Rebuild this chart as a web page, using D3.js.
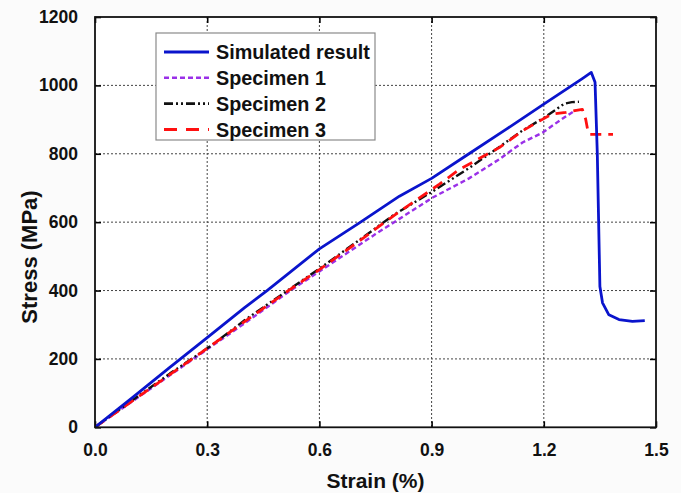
<!DOCTYPE html>
<html>
<head>
<meta charset="utf-8">
<script src="https://cdn.jsdelivr.net/npm/d3@7"></script>
<style>
	body { margin: 0; background: #fbfbfb; }
	svg { display: block; font-family: "Liberation Sans", Arial, sans-serif; font-weight: bold; }
</style>
</head>
<body>
<svg id="chart" width="681" height="493"></svg>
<script>
// Data (strain %, stress MPa) =================================================
var simulated = [[0,0],[0.1,87],[0.2,175],[0.3,262],[0.4,350],[0.46,400],[0.6,522],[0.707,598],
	[0.814,676],[0.9,728],[1.0,800],[1.1,872],[1.2,945],[1.303,1020],[1.327,1038],[1.337,1009],
	[1.343,803],[1.35,412],[1.357,364],[1.374,329],[1.401,315],[1.437,310],[1.47,312]];
var specimen1 = [[0,0],[0.1,76],[0.2,152],[0.3,228],[0.4,304],[0.52,398],[0.6,456],[0.75,565],
	[0.903,672],[1.0,728],[1.081,784],[1.143,833],[1.197,862],[1.241,896],[1.285,928]];
var specimen2 = [[0,0],[0.1,79],[0.2,157],[0.307,236],[0.4,313],[0.52,404],[0.6,464],[0.707,548],
	[0.8,622],[0.903,690],[1.0,758],[1.081,820],[1.143,868],[1.2,905],[1.228,926],[1.254,946],
	[1.275,951],[1.294,952]];
var specimen3 = [[0,0],[0.1,77],[0.2,154],[0.3,231],[0.4,309],[0.52,402],[0.6,461],[0.707,545],
	[0.8,620],[0.921,711],[0.974,754],[1.081,818],[1.143,867],[1.205,906],[1.223,916],[1.259,921],
	[1.303,930],[1.312,901],[1.317,872],[1.322,857],[1.385,857]];

var xTicks = [0, 0.3, 0.6, 0.9, 1.2, 1.5];
var yTicks = [0, 200, 400, 600, 800, 1000, 1200];

var seriesNames = ["Simulated result", "Specimen 1", "Specimen 2", "Specimen 3"];
var seriesData = [simulated, specimen1, specimen2, specimen3];
var seriesColors = ["#0a14cc", "#9a30e8", "#111111", "#ff1010"];
var seriesDash = [null, "5,3", "9,3,2,3,2,3", "11,7"];
var seriesWidth = [2.8, 2.4, 2.4, 2.8];

// Layout ======================================================================
var plot = { left: 95, right: 656, top: 17, bottom: 427.3 };

var svg = d3.select("#chart");

var xScale = d3.scaleLinear().domain([0, 1.5]).range([plot.left, plot.right]);
var yScale = d3.scaleLinear().domain([0, 1200]).range([plot.bottom, plot.top]);

svg.append("rect")
	.attr("x", plot.left).attr("y", plot.top)
	.attr("width", plot.right - plot.left).attr("height", plot.bottom - plot.top)
	.attr("fill", "#ffffff");

// Grid ========================================================================
var grid = svg.append("g").attr("class", "grid");

grid.selectAll("line.gx")
	.data(xTicks.slice(1, -1))
	.enter().append("line")
	.attr("x1", function(d){ return xScale(d) })
	.attr("x2", function(d){ return xScale(d) })
	.attr("y1", plot.top).attr("y2", plot.bottom)
	.attr("stroke", "#444").attr("stroke-width", 1).attr("stroke-dasharray", "2,2");

grid.selectAll("line.gy")
	.data(yTicks.slice(1, -1))
	.enter().append("line")
	.attr("y1", function(d){ return yScale(d) })
	.attr("y2", function(d){ return yScale(d) })
	.attr("x1", plot.left).attr("x2", plot.right)
	.attr("stroke", "#444").attr("stroke-width", 1).attr("stroke-dasharray", "2,2");

// Axes ========================================================================
var xAxisB = d3.axisBottom(xScale).tickValues(xTicks).tickSizeInner(-6).tickSizeOuter(0)
	.tickPadding(16).tickFormat(d3.format(".1f"));
var xAxisT = d3.axisTop(xScale).tickValues(xTicks).tickSizeInner(-6).tickSizeOuter(0).tickFormat("");
var yAxisL = d3.axisLeft(yScale).tickValues(yTicks).tickSizeInner(-6).tickSizeOuter(0)
	.tickPadding(17).tickFormat(d3.format("d"));
var yAxisR = d3.axisRight(yScale).tickValues(yTicks).tickSizeInner(-6).tickSizeOuter(0).tickFormat("");

function styleAxis(g) {
	g.select(".domain").remove();
	g.selectAll(".tick line").attr("stroke", "#000").attr("stroke-width", 1.6);
	g.selectAll(".tick text")
		.attr("fill", "#111")
		.style("font-family", "'Liberation Sans', Arial, sans-serif")
		.style("font-weight", "bold")
		.style("font-size", "17.5px");
}

svg.append("g").attr("transform", "translate(0," + plot.bottom + ")").call(xAxisB).call(styleAxis);
svg.append("g").attr("transform", "translate(0," + plot.top + ")").call(xAxisT).call(styleAxis);
svg.append("g").attr("transform", "translate(" + plot.left + ",0)").call(yAxisL).call(styleAxis);
svg.append("g").attr("transform", "translate(" + plot.right + ",0)").call(yAxisR).call(styleAxis);

// Lines =======================================================================
var line = d3.line()
	.x(function(d){ return xScale(d[0]) })
	.y(function(d){ return yScale(d[1]) });

svg.append("clipPath").attr("id", "plot-clip")
	.append("rect").attr("x", plot.left).attr("y", plot.top)
	.attr("width", plot.right - plot.left).attr("height", plot.bottom - plot.top);

var lines = svg.append("g").attr("clip-path", "url(#plot-clip)");

// draw specimens first, simulated on top
[1, 2, 3, 0].forEach(function(i) {
	lines.append("path")
		.datum(seriesData[i])
		.attr("d", line)
		.attr("fill", "none")
		.attr("stroke", seriesColors[i])
		.attr("stroke-width", seriesWidth[i])
		.attr("stroke-dasharray", seriesDash[i])
		.attr("stroke-linejoin", "round");
});

// Frame =======================================================================
svg.append("rect")
	.attr("x", plot.left).attr("y", plot.top)
	.attr("width", plot.right - plot.left).attr("height", plot.bottom - plot.top)
	.attr("fill", "none").attr("stroke", "#111").attr("stroke-width", 1.8);

// Axis titles =================================================================
svg.append("text")
	.attr("x", (plot.left + plot.right) / 2).attr("y", 488)
	.attr("text-anchor", "middle")
	.attr("font-size", 21).attr("fill", "#111")
	.text("Strain (%)");

svg.append("text")
	.attr("transform", "translate(37," + 257 + ") rotate(-90)")
	.attr("text-anchor", "middle")
	.attr("font-size", 22).attr("fill", "#111")
	.text("Stress (MPa)");

// Legend ======================================================================
var legend = svg.append("g");

legend.append("rect")
	.attr("x", 156).attr("y", 33)
	.attr("width", 219).attr("height", 107)
	.attr("fill", "#ffffff").attr("stroke", "#8a8a8a").attr("stroke-width", 1.2);

var rows = legend.selectAll("g.row")
	.data(seriesNames)
	.enter().append("g")
	.attr("transform", function(d, i){ return "translate(0," + (52 + i * 25.8) + ")" });

rows.append("line")
	.attr("x1", 164).attr("x2", 209)
	.attr("stroke", function(d, i){ return seriesColors[i] })
	.attr("stroke-width", function(d, i){ return seriesWidth[i] + 0.2 })
	.attr("stroke-dasharray", function(d, i){ return i === 3 ? "13,9" : seriesDash[i] });

rows.append("text")
	.attr("x", 216).attr("dy", "0.36em")
	.attr("font-size", 19.8).attr("fill", "#111")
	.text(function(d){ return d });
</script>
</body>
</html>
